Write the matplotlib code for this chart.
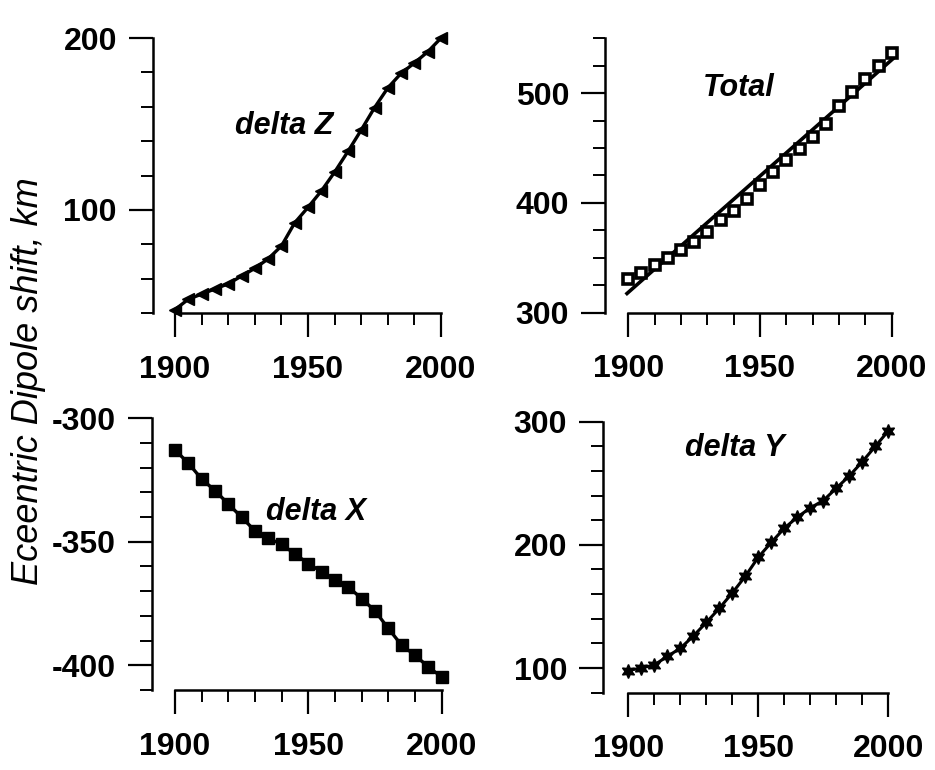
import matplotlib
matplotlib.use("Agg")
import matplotlib.pyplot as plt
from matplotlib.ticker import MultipleLocator

years = [1900, 1905, 1910, 1915, 1920, 1925, 1930, 1935, 1940, 1945, 1950,
         1955, 1960, 1965, 1970, 1975, 1980, 1985, 1990, 1995, 2000]

delta_z = [42, 48, 51, 54, 57, 61.5, 66, 71.5, 79, 92.5, 101.5,
           111, 122, 134, 146.5, 159.5, 171, 179.5, 185.5, 192, 200]

total = [331, 336, 343, 350, 357.5, 364.5, 373.5, 384, 392.5, 404, 416,
         428, 439, 449.5, 460, 472, 488, 501, 513, 525, 536.5]
fit_years = [1899.5, 2001]
fit_total = [317.5, 532.5]

delta_x = [-312.8, -318.2, -324.6, -329.3, -334.7, -340.1, -345.6, -348.6, -351, -355, -358.8,
           -362.2, -365.5, -368.3, -373, -378, -385.1, -391.9, -395.9, -400.7, -404.7]

delta_y = [98, 100, 102.5, 109.5, 116, 126, 137, 148.5, 161, 174.5, 190,
           202, 213.5, 222.5, 230, 236, 246, 256, 267.5, 280, 292.5]

x_ticks = [1900, 1950, 2000]

plt.rcParams['font.family'] = ['Liberation Sans', 'DejaVu Sans']
plt.rcParams['axes.unicode_minus'] = False

fig = plt.figure(figsize=(9.35, 7.7), dpi=100)

def style(ax, ylim, ymajor, yminor, offset_px):
    ax.set_xlim(1900, 2000)
    ax.set_ylim(*ylim)
    for s in ('top', 'right'):
        ax.spines[s].set_visible(False)
    ax.spines['left'].set_position(('outward', offset_px * 0.72))
    ax.spines['left'].set_linewidth(1.8)
    ax.spines['bottom'].set_linewidth(1.8)
    ax.set_xticks(x_ticks)
    ax.xaxis.set_minor_locator(MultipleLocator(10))
    ax.yaxis.set_major_locator(MultipleLocator(ymajor))
    ax.yaxis.set_minor_locator(MultipleLocator(yminor))
    ax.tick_params(which='major', length=17, width=1.6, direction='out',
                   labelsize=23, pad=9)
    ax.tick_params(which='minor', length=8.5, width=1.4, direction='out')
    ax.tick_params(axis='x', which='major', pad=13)
    for lab in ax.get_xticklabels() + ax.get_yticklabels():
        lab.set_fontweight('bold')
    ax.patch.set_alpha(0)

# Top-left: delta Z
ax1 = fig.add_axes([0.1872, 0.5935, 0.2845, 0.3571])
style(ax1, (40, 200), 100, 20, 22)
ax1.plot(years, delta_z, color='black', lw=2.4, marker='<', ms=8, clip_on=False)
ax1.text(1941, 149, 'delta Z', fontsize=22, fontweight='bold', style='italic',
         ha='center', va='center')

# Top-right: Total
ax2 = fig.add_axes([0.672, 0.5939, 0.2817, 0.3564])
style(ax2, (300, 550), 100, 25, 23)
ax2.plot(fit_years, fit_total, color='black', lw=2.6, clip_on=False)
ax2.plot(years, total, linestyle='none', marker='s', ms=6.5, mfc='white',
         mec='black', mew=2.6, clip_on=False)
ax2.text(1942, 505, 'Total', fontsize=22, fontweight='bold', style='italic',
         ha='center', va='center')

# Bottom-left: delta X
ax3 = fig.add_axes([0.1872, 0.1039, 0.2852, 0.3529])
style(ax3, (-410, -300), 50, 10, 23)
ax3.plot(years, delta_x, color='black', lw=2.4, marker='s', ms=9, clip_on=False)
ax3.text(1953, -338, 'delta X', fontsize=22, fontweight='bold', style='italic',
         ha='center', va='center')

# Bottom-right: delta Y
ax4 = fig.add_axes([0.672, 0.1004, 0.2781, 0.352])
style(ax4, (80, 300), 100, 20, 25)
ax4.plot(years, delta_y, color='black', lw=2.2, marker=(6, 1, 0), ms=10, clip_on=False)
ax4.text(1941, 279, 'delta Y', fontsize=22, fontweight='bold', style='italic',
         ha='center', va='center')

fig.text(0.031, 0.505, 'Eceentric Dipole shift, km', rotation=90, fontsize=26,
         style='italic', ha='center', va='center')

fig.savefig('out.png', dpi=100)
